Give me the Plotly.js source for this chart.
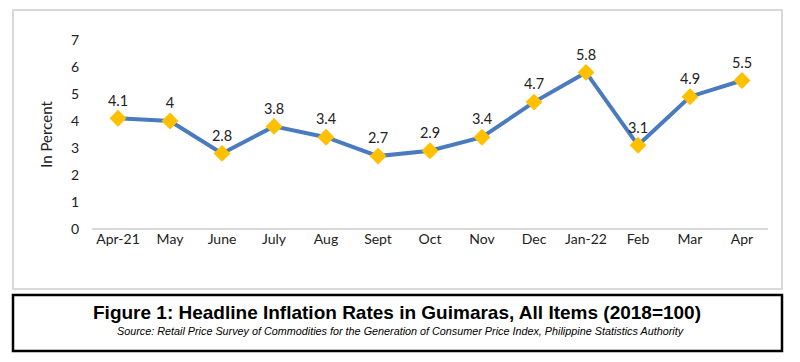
<!DOCTYPE html>
<html>
<head>
<meta charset="utf-8">
<script src="https://cdn.plot.ly/plotly-3.0.1.min.js"></script>
<style>html,body{margin:0;padding:0;background:#fff;}#chart{width:800px;height:362px;}</style>
</head>
<body>
<div id="chart"></div>
<script>
const months = ["Apr-21","May","June","July","Aug","Sept","Oct","Nov","Dec","Jan-22","Feb","Mar","Apr"];
const inflation = [4.1, 4, 2.8, 3.8, 3.4, 2.7, 2.9, 3.4, 4.7, 5.8, 3.1, 4.9, 5.5];
const labels = ["4.1","4","2.8","3.8","3.4","2.7","2.9","3.4","4.7","5.8","3.1","4.9","5.5"];
const yTicks = [0,1,2,3,4,5,6,7];

const L = 92, R = 768, T = 40, B = 229;
const W = R - L, H = B - T;
const px = x => (x - L) / W;
const py = y => (B - y) / H;

const trace = {
  x: months, y: inflation, type: 'scatter', mode: 'lines+markers+text',
  text: labels, textposition: 'top center',
  textfont: {family: 'Lato, "Open Sans", sans-serif', size: 14.5, color: '#222'},
  line: {color: '#4A7BBF', width: 4},
  marker: {symbol: 'diamond', size: 13, color: '#FFC000'},
  cliponaxis: false, hoverinfo: 'skip'
};

const layout = {
  width: 800, height: 362,
  margin: {l: L, r: 800 - R, t: T, b: 362 - B},
  paper_bgcolor: '#fff', plot_bgcolor: '#fff',
  showlegend: false,
  font: {family: 'Lato, "Open Sans", sans-serif', size: 14, color: '#222'},
  xaxis: {
    type: 'category', range: [-0.5, 12.5], showgrid: false, zeroline: false,
    showline: false, ticks: '', tickfont: {size: 14, color: '#222'}, fixedrange: true
  },
  yaxis: {
    range: [0, 7], tickvals: yTicks, showgrid: false, zeroline: true,
    zerolinecolor: '#D9D9D9', zerolinewidth: 1.5, showline: false, ticks: '',
    ticklabelstandoff: 12,
    tickfont: {size: 14, color: '#222'},
    title: {text: 'In Percent', font: {size: 15, color: '#222'}, standoff: 14},
    fixedrange: true
  },
  shapes: [
    {type: 'rect', xref: 'paper', yref: 'paper', x0: px(13), x1: px(782), y0: py(289), y1: py(10),
     line: {color: '#D9D9D9', width: 2}, layer: 'below'},
    {type: 'rect', xref: 'paper', yref: 'paper', x0: px(13), x1: px(782), y0: py(351), y1: py(295),
     line: {color: '#000', width: 2.5}}
  ],
  annotations: [
    {xref: 'paper', yref: 'paper', x: px(397), y: py(312), xanchor: 'center', yanchor: 'middle', showarrow: false,
     text: '<b>Figure 1: Headline Inflation Rates in Guimaras, All Items (2018=100)</b>',
     font: {family: 'Liberation Sans, Arial, sans-serif', size: 19, color: '#000'}},
    {xref: 'paper', yref: 'paper', x: px(400), y: py(331), xanchor: 'center', yanchor: 'middle', showarrow: false,
     text: '<i>Source: Retail Price Survey of Commodities for the Generation of Consumer Price Index, Philippine Statistics Authority</i>',
     font: {family: 'Liberation Sans, Arial, sans-serif', size: 10.8, color: '#000'}}
  ]
};

Plotly.newPlot('chart', [trace], layout, {staticPlot: true, displayModeBar: false});
</script>
</body>
</html>
